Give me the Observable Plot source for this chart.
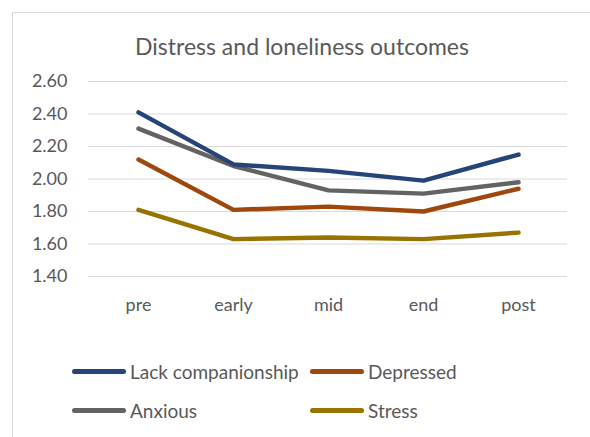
<!DOCTYPE html>
<html><head><meta charset="utf-8">
<script src="https://cdn.jsdelivr.net/npm/d3@7"></script>
<script src="https://cdn.jsdelivr.net/npm/@observablehq/plot@0.6"></script>
<style>
body{margin:0;background:#fff;font-family:Lato,"Open Sans",sans-serif;color:#595959}
#wrap{position:relative;width:590px;height:437px;overflow:hidden}
#frame{position:absolute;left:12px;top:12px;width:600px;height:440px;border:1px solid #d9d9d9;box-sizing:border-box}
#title{position:absolute;left:0;width:604px;top:32px;text-align:center;font-size:23px;color:#595959}
#chart{position:absolute;left:0;top:0}
.leg{position:absolute;font-size:19px;color:#595959;display:flex;align-items:center;height:22px;white-space:nowrap}
.sw{display:inline-block;width:54px;height:5px;border-radius:3px;margin-right:4px}
</style></head><body>
<div id="wrap">
<div id="frame"></div>
<div id="chart"></div>
<div id="title">Distress and loneliness outcomes</div>
<div id="legend"></div>
</div>
<script>
const phases = ["pre","early","mid","end","post"];
const seriesNames = ["Lack companionship","Depressed","Anxious","Stress"];
const seriesColors = ["#264478","#9E480E","#636363","#997300"];
const lackCompanionship = [2.41,2.09,2.05,1.99,2.15];
const depressed = [2.12,1.81,1.83,1.80,1.94];
const anxious = [2.31,2.08,1.93,1.91,1.98];
const stress = [1.81,1.63,1.64,1.63,1.67];
const yTicks = [1.4,1.6,1.8,2.0,2.2,2.4,2.6];

const valuesBySeries = [lackCompanionship, depressed, anxious, stress];
const data = [];
[3,1,2,0].forEach(si => phases.forEach((p,i) => data.push({series: seriesNames[si], phase: p, value: valuesBySeries[si][i]})));

const plot = Plot.plot({
  width: 590, height: 330,
  marginLeft: 88, marginRight: 23, marginTop: 81, marginBottom: 54,
  style: {fontFamily: "Lato, 'Open Sans', sans-serif", fontSize: "18px", color: "#595959", background: "transparent"},
  x: {type: "point", domain: phases, padding: 0.5, label: null},
  y: {domain: [1.4, 2.6], ticks: yTicks, label: null},
  color: {domain: seriesNames, range: seriesColors},
  marks: [
    Plot.gridY(yTicks, {stroke: "#d9d9d9", strokeOpacity: 1, strokeWidth: 1.2}),
    Plot.axisY(yTicks, {tickSize: 0, tickPadding: 21, tickFormat: d => d.toFixed(2), label: null, fill: "#595959"}),
    Plot.axisX({tickSize: 0, tickPadding: 22, label: null, fill: "#595959"}),
    Plot.line(data, {x: "phase", y: "value", z: "series", stroke: "series", strokeWidth: 4.5, strokeLinecap: "round", strokeLinejoin: "round"})
  ]
});
document.getElementById("chart").appendChild(plot);

const legendPos = [[72,360],[310,360],[72,399],[310,399]];
const leg = document.getElementById("legend");
seriesNames.forEach((n,i) => {
  const d = document.createElement("div");
  d.className = "leg";
  d.style.left = legendPos[i][0] + "px";
  d.style.top = legendPos[i][1] + "px";
  d.innerHTML = `<span class="sw" style="background:${seriesColors[i]}"></span>${n}`;
  leg.appendChild(d);
});
</script>
</body></html>
